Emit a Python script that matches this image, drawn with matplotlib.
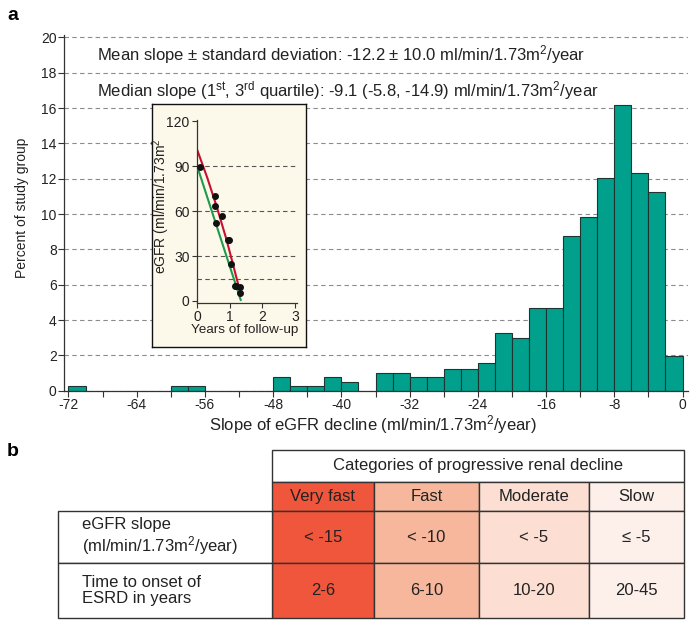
import matplotlib
matplotlib.use('Agg')
import matplotlib.pyplot as plt
from matplotlib.patches import Rectangle
from matplotlib.ticker import MultipleLocator
import numpy as np

plt.rcParams['font.family'] = ['Liberation Sans', 'DejaVu Sans']
plt.rcParams['mathtext.fontset'] = 'custom'
plt.rcParams['mathtext.rm'] = 'Liberation Sans'
plt.rcParams['mathtext.it'] = 'Liberation Sans:italic'
plt.rcParams['mathtext.bf'] = 'Liberation Sans:bold'
plt.rcParams['axes.unicode_minus'] = False

# panel a: histogram of eGFR slopes, bins of 2 from -72 to 0
bin_left = np.arange(-72, 0, 2)
pct = [0.25, 0, 0, 0, 0, 0,
       0.25, 0.25, 0, 0, 0, 0,
       0.75, 0.25, 0.25, 0.75, 0.5, 0,
       1.0, 1.0, 0.75, 0.75, 1.25, 1.25, 1.55, 3.25, 3.0,
       4.7, 4.7, 8.75, 9.85, 12.05, 16.2, 12.35, 11.25, 1.95]

# inset: one patient's eGFR over follow-up
years = [0.07, 0.54, 0.54, 0.57, 0.75, 0.93, 0.97, 1.03, 1.15, 1.20, 1.32, 1.30]
egfr = [89.5, 70.3, 63.2, 51.9, 56.9, 40.8, 40.6, 24.4, 10.0, 10.0, 9.3, 5.4]
green_x = [0, 1.33]
green_y = [89.5, 0.7]
red_x = [0, 0.3, 0.6, 0.9, 1.26]
red_y = [100.5, 82.5, 62.5, 40.5, 10.5]

# panel b: categories table
categories = ['Very fast', 'Fast', 'Moderate', 'Slow']
slope_cut = ['< -15', '< -10', '< -5', '\u2264 -5']
esrd_years = ['2-6', '6-10', '10-20', '20-45']
cat_colors = ['#f0563b', '#f7b79c', '#fcdfd2', '#fdf0ea']
row_labels = ['eGFR slope\n(ml/min/1.73m$^2$/year)', 'Time to onset of\nESRD in years']

W, H = 698, 628
fig = plt.figure(figsize=(W / 100, H / 100), dpi=100)


def px(x, y):
    return x / W, 1 - y / H


ink = '#333333'
txt = '#222222'
teal = '#00a08c'

ax = fig.add_axes([64.3 / W, 1 - 390.7 / H, 623.7 / W, 355.9 / H])
nz = [i for i, v in enumerate(pct) if v > 0]
ax.bar(bin_left[nz], [pct[i] for i in nz], width=2, align='edge',
       color=teal, edgecolor='#1e3532', linewidth=0.8, zorder=2)
ax.set_xlim(-72.49, 0.64)
ax.set_ylim(0, 20.15)
ax.xaxis.set_major_locator(MultipleLocator(8))
ax.xaxis.set_minor_locator(MultipleLocator(4))
ax.yaxis.set_major_locator(MultipleLocator(2))
ax.set_axisbelow(True)
ax.yaxis.grid(True, linestyle=(0, (4, 3)), color='#8c8c8c', linewidth=0.8)
for s in ['top', 'right']:
    ax.spines[s].set_visible(False)
for s in ['left', 'bottom']:
    ax.spines[s].set_color(ink)
    ax.spines[s].set_linewidth(0.9)
ax.tick_params(which='both', direction='out', length=4, width=0.8, color=ink,
               labelsize=10, pad=1.5, labelcolor=txt)

fig.text(*px(96.7, 55), 'Mean slope \u00b1 standard deviation: -12.2 \u00b1 10.0 ml/min/1.73m$^2$/year',
         fontsize=12, ha='left', va='center', color=txt)
fig.text(*px(96.7, 90.5), 'Median slope (1$^{\\mathrm{st}}$, 3$^{\\mathrm{rd}}$ quartile): -9.1 (-5.8, -14.9) ml/min/1.73m$^2$/year',
         fontsize=12, ha='left', va='center', color=txt)
fig.text(*px(21.7, 208), 'Percent of study group', rotation=90, fontsize=10,
         ha='center', va='center', color=txt)
fig.text(*px(373, 424.5), 'Slope of eGFR decline (ml/min/1.73m$^2$/year)', fontsize=12,
         ha='center', va='center', color=txt)
fig.text(*px(12.5, 15), 'a', fontsize=14, fontweight='bold', ha='center', va='center')
fig.text(*px(12.5, 452), 'b', fontsize=14, fontweight='bold', ha='center', va='center')

# inset box
box = fig.add_axes([151.7 / W, 1 - 346.7 / H, 154 / W, 242.7 / H])
box.set_facecolor('#fdf9ea')
box.set_xticks([])
box.set_yticks([])
for s in box.spines.values():
    s.set_color('#111111')
    s.set_linewidth(1.0)

ins = fig.add_axes([196.5 / W, 1 - 303.2 / H, 100.1 / W, 183.2 / H])
ins.patch.set_visible(False)
ins.set_xlim(-0.03, 3.05)
ins.set_ylim(-1.5, 121)
ins.set_xticks([0, 1, 2, 3])
ins.set_yticks([0, 30, 60, 90, 120])
for g in [15, 30, 60, 90]:
    ins.axhline(g, linestyle=(0, (4, 3)), color='#555555', linewidth=0.8, zorder=1)
ins.plot(red_x, red_y, color='#c8102e', linewidth=1.5, zorder=2)
ins.plot(green_x, green_y, color='#1f9a4b', linewidth=1.5, zorder=3)
ins.scatter(years, egfr, s=16, color='#111111', zorder=4)
for s in ['top', 'right']:
    ins.spines[s].set_visible(False)
for s in ['left', 'bottom']:
    ins.spines[s].set_color(ink)
    ins.spines[s].set_linewidth(0.9)
ins.tick_params(direction='out', length=3.5, width=0.8, color=ink, labelsize=10,
                pad=1.5, labelcolor=txt)
fig.text(*px(161.5, 206), 'eGFR (ml/min/1.73m$^2$', rotation=90, fontsize=10,
         ha='center', va='center', color=txt)
fig.text(*px(245, 330), 'Years of follow-up', fontsize=9.7, ha='center', va='center',
         color=txt)

# table
tab = fig.add_axes([0, 0, 1, 1])
tab.set_xlim(0, W)
tab.set_ylim(H, 0)
tab.axis('off')
col_x = [58.3, 271.7, 374, 479.3, 588.7, 684.3]
row_y = [450, 481.7, 511.3, 563.3, 618.3]
lw = 1.0


def cell(x0, x1, y0, y1, fc):
    tab.add_patch(Rectangle((x0, y0), x1 - x0, y1 - y0, facecolor=fc,
                            edgecolor=ink, linewidth=lw))


cell(col_x[1], col_x[5], row_y[0], row_y[1], 'white')
tab.text((col_x[1] + col_x[5]) / 2, (row_y[0] + row_y[1]) / 2,
         'Categories of progressive renal decline', fontsize=12,
         ha='center', va='center', color=txt)
for i, name in enumerate(categories):
    x0, x1 = col_x[i + 1], col_x[i + 2]
    cx = (x0 + x1) / 2
    cell(x0, x1, row_y[1], row_y[2], cat_colors[i])
    cell(x0, x1, row_y[2], row_y[3], cat_colors[i])
    cell(x0, x1, row_y[3], row_y[4], cat_colors[i])
    tab.text(cx, (row_y[1] + row_y[2]) / 2, name, fontsize=12,
             ha='center', va='center', color=txt)
    tab.text(cx, (row_y[2] + row_y[3]) / 2, slope_cut[i], fontsize=12,
             ha='center', va='center', color=txt)
    tab.text(cx, (row_y[3] + row_y[4]) / 2, esrd_years[i], fontsize=12,
             ha='center', va='center', color=txt)
for j, lab in enumerate(row_labels):
    cell(col_x[0], col_x[1], row_y[j + 2], row_y[j + 3], 'white')
    tab.text(81.7, (row_y[j + 2] + row_y[j + 3]) / 2, lab, fontsize=12,
             ha='left', va='center', linespacing=1.1, color=txt)

fig.savefig('out.png', dpi=100)
